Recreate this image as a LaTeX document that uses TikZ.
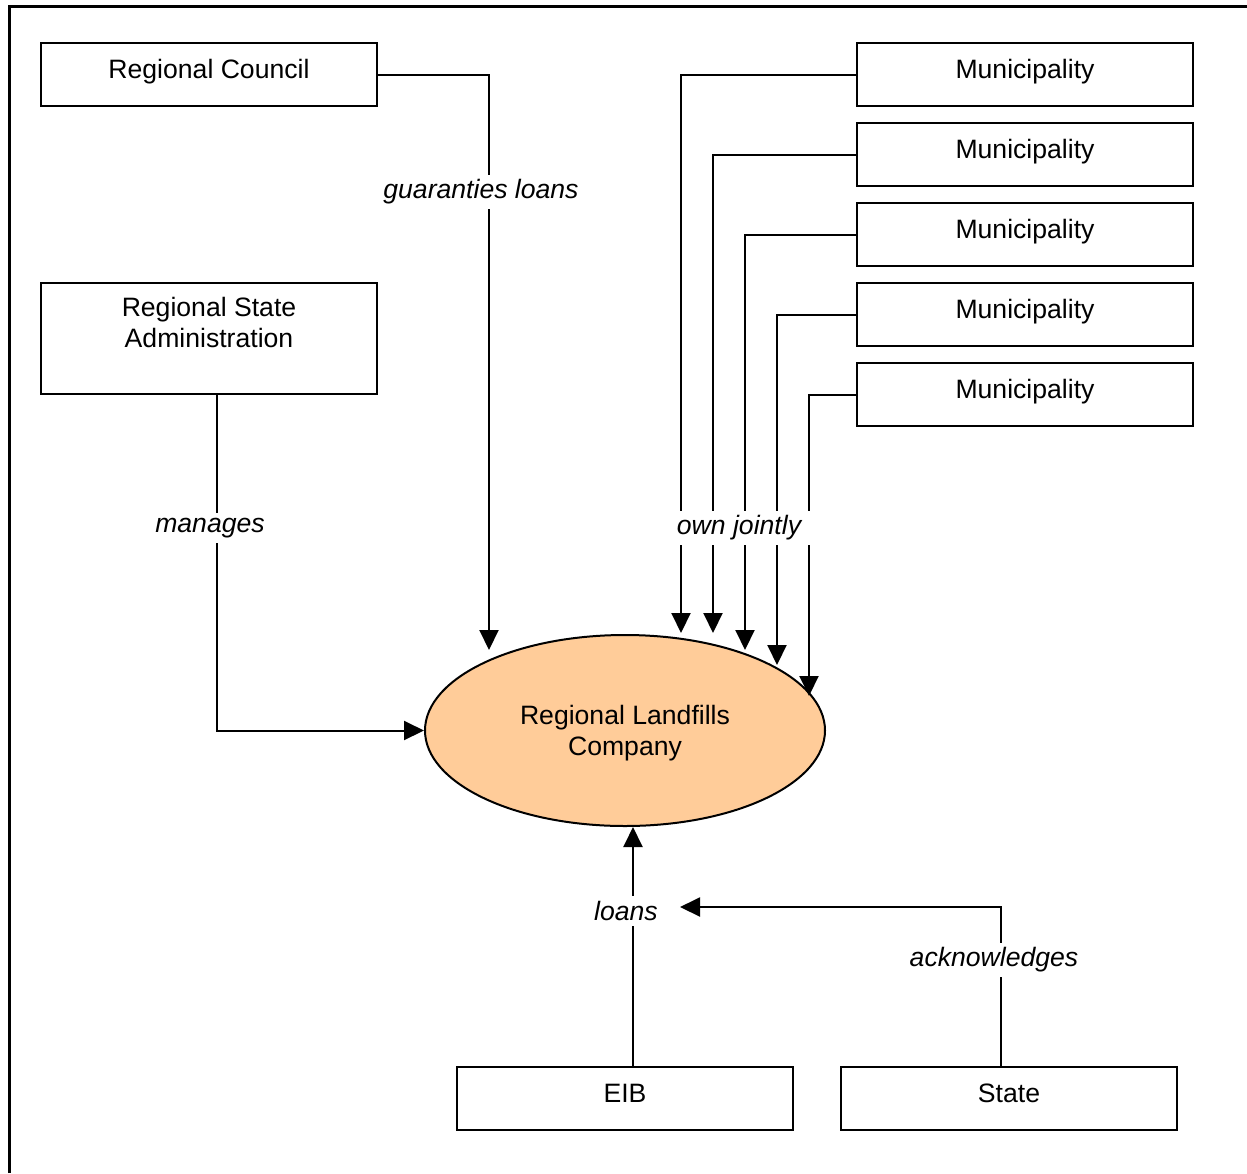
\documentclass[tikz,border=0pt]{standalone}
\usepackage{fontspec}
\setmainfont{Liberation Sans}
\usetikzlibrary{arrows.meta,shapes.geometric}
\definecolor{peach}{HTML}{FFCC99}
\tikzset{
  box/.style={draw, line width=2pt, inner sep=0pt, minimum width=336pt, minimum height=63pt,
    font=\fontsize{26.6}{31}\selectfont, align=center, text height=21pt, text depth=14pt},
  conn/.style={line width=2pt, -{Triangle[length=20pt,width=19pt]}},
  lbl/.style={fill=white, inner xsep=8pt, inner ysep=5pt, font=\fontsize{26.6}{31}\selectfont\itshape},
}
\begin{document}
\begin{tikzpicture}[x=1pt,y=-1pt]
\useasboundingbox (0,0) rectangle (1247,1173);
\fill[white] (0,0) rectangle (1247,1173);
\draw[line width=3pt] (9,1173) -- (9,6) -- (1247,6);

% boxes
\node[box] (rc) at (209,74.5) {Regional Council};
\node[box, minimum height=111pt, text height=50pt, text depth=33pt] (rsa) at (209,338.5) {Regional State\\Administration};
\node[box] (m1) at (1025,74.5) {Municipality};
\node[box] (m2) at (1025,154.5) {Municipality};
\node[box] (m3) at (1025,234.5) {Municipality};
\node[box] (m4) at (1025,314.5) {Municipality};
\node[box] (m5) at (1025,394.5) {Municipality};
\node[box] (eib) at (625,1098.5) {EIB};
\node[box] (st) at (1009,1098.5) {State};

% central ellipse
\node[ellipse, draw, line width=2pt, fill=peach, inner sep=0pt, minimum width=400pt, minimum height=191pt,
  font=\fontsize{26.6}{31}\selectfont, align=center, text height=51pt, text depth=2pt]
  (rlc) at (625,730.5) {Regional Landfills\\Company};

% arrow tip coordinates
\coordinate (trc) at (489,650);
\coordinate (t1) at (681,633);
\coordinate (t2) at (713,633);
\coordinate (t3) at (745,650);
\coordinate (t4) at (777,665);
\coordinate (t5) at (809,696);
\coordinate (tst) at (680,907);

% connectors
\draw[conn] (rc.east) -| (trc);
\draw[conn] (m1.west) -| (t1);
\draw[conn] (m2.west) -| (t2);
\draw[conn] (m3.west) -| (t3);
\draw[conn] (m4.west) -| (t4);
\draw[conn] (m5.west) -| (t5);
\draw[conn] ([xshift=8pt]rsa.south) |- (rlc.west);
\draw[conn] ([xshift=8pt]eib.north) -- ([xshift=8pt]rlc.south);
\draw[conn] ([xshift=-8pt]st.north) |- (tst);

% labels
\node[lbl] (lgl) at (481,192) {guaranties loans};
\node[lbl] (lman) at (210,528) {manages};
\node[lbl, inner xsep=11pt] (lown) at (739,528) {own jointly};
\node[lbl] (lloan) at (626,911) {loans};
\node[lbl] (lack) at (994,960) {acknowledges};
\end{tikzpicture}
\end{document}
